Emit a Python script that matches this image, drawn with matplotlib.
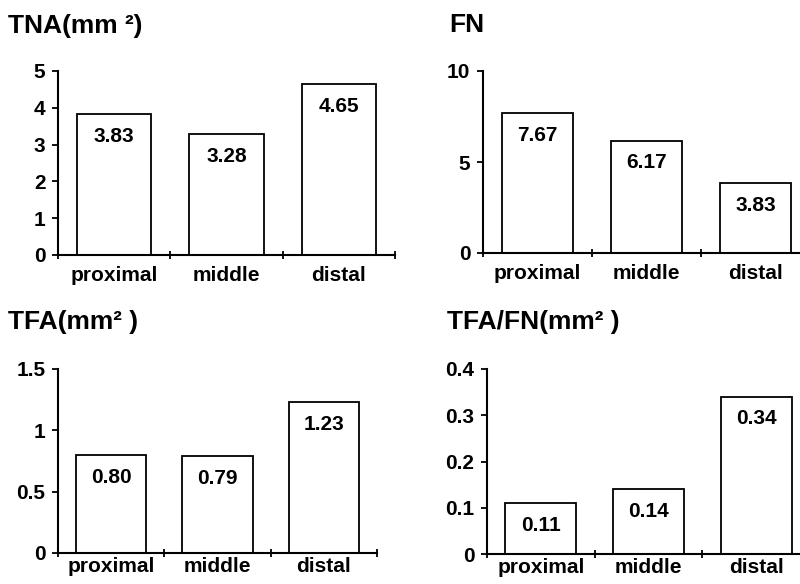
import numpy as np
import matplotlib.pyplot as plt

plt.rcParams['font.family'] = ['Liberation Sans', 'DejaVu Sans']
plt.rcParams['font.weight'] = 'bold'

categories = ['proximal', 'middle', 'distal']

tna = [3.83, 3.28, 4.65]
fn = [7.67, 6.17, 3.83]
tfa = [0.80, 0.79, 1.23]
tfa_fn = [0.11, 0.14, 0.34]

tna_labels = ['3.83', '3.28', '4.65']
fn_labels = ['7.67', '6.17', '3.83']
tfa_labels = ['0.80', '0.79', '1.23']
tfa_fn_labels = ['0.11', '0.14', '0.34']

tna_ticks = [0, 1, 2, 3, 4, 5]
fn_ticks = [0, 5, 10]
tfa_ticks = [0, 0.5, 1, 1.5]
tfa_fn_ticks = [0, 0.1, 0.2, 0.3, 0.4]

W, H = 800, 584


def px_axes(fig, left, right, top, bottom):
    # pixel box -> figure fraction
    return fig.add_axes([left / W, 1 - bottom / H, (right - left) / W, (bottom - top) / H])


def bar_panel(ax, values, labels, yticks, yticklabels, xpad=8):
    x = np.arange(len(categories))
    bars = ax.bar(x, values, width=0.66, color='white', edgecolor='black', linewidth=1.3)
    for b, lab in zip(bars, labels):
        ax.annotate(lab, (b.get_x() + b.get_width() / 2, b.get_height()),
                    xytext=(0, -16), textcoords='offset points',
                    ha='center', va='center', fontsize=15, fontweight='bold')
    ax.set_xlim(-0.5, len(categories) - 0.5)
    ax.set_ylim(yticks[0], yticks[-1])
    ax.set_yticks(yticks)
    ax.set_yticklabels(yticklabels, fontsize=15, fontweight='bold')
    ax.set_xticks(np.arange(len(categories) + 1) - 0.5)
    ax.set_xticklabels([])
    ax.set_xticks(x, minor=True)
    ax.set_xticklabels(categories, minor=True, fontsize=15, fontweight='bold')
    ax.tick_params(axis='x', which='minor', length=0, pad=xpad)
    ax.tick_params(axis='x', which='major', direction='inout', length=6, width=1.3)
    ax.tick_params(axis='y', direction='out', length=4, width=1.3, pad=5)
    for side in ['top', 'right']:
        ax.spines[side].set_visible(False)
    for side in ['left', 'bottom']:
        ax.spines[side].set_linewidth(1.5)
    ax.spines['left'].set_bounds(yticks[0], yticks[-1])


fig = plt.figure(figsize=(W / 100, H / 100), dpi=100)

ax1 = px_axes(fig, 58, 395, 71, 255)
bar_panel(ax1, tna, tna_labels, tna_ticks, ['0', '1', '2', '3', '4', '5'])

ax2 = px_axes(fig, 483, 810, 71, 253)
bar_panel(ax2, fn, fn_labels, fn_ticks, ['0', '5', '10'])

ax3 = px_axes(fig, 58, 377, 369, 553)
bar_panel(ax3, tfa, tfa_labels, tfa_ticks, ['0', '0.5', '1', '1.5'], xpad=3)

ax4 = px_axes(fig, 487, 810, 369, 554)
bar_panel(ax4, tfa_fn, tfa_fn_labels, tfa_fn_ticks, ['0', '0.1', '0.2', '0.3', '0.4'], xpad=3)

title_kw = dict(fontsize=19, fontweight='bold', va='center', ha='left')
fig.text(8 / W, 1 - 26 / H, 'TNA(mm \u00b2)', **title_kw)
fig.text(449 / W, 1 - 25 / H, 'FN', **title_kw)
fig.text(8 / W, 1 - 322 / H, 'TFA(mm\u00b2 )', **title_kw)
fig.text(447 / W, 1 - 322 / H, 'TFA/FN(mm\u00b2 )', **title_kw)

fig.savefig('out.png', dpi=100)
